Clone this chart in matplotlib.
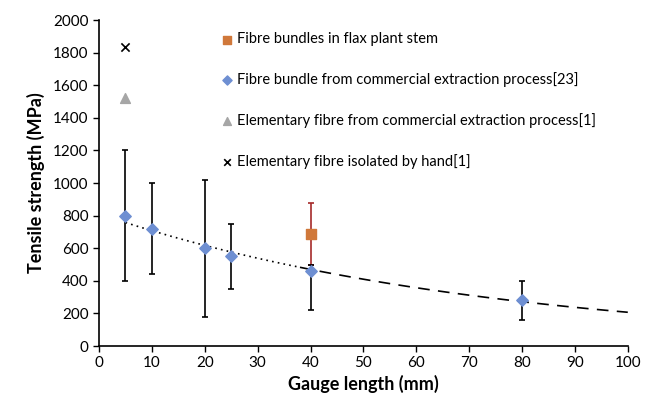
import numpy as np
import matplotlib
matplotlib.use("Agg")
import matplotlib.pyplot as plt

plt.rcParams['font.family'] = ['Lato', 'DejaVu Sans']

# fibre bundles from commercial extraction process [23]
gauge = [5, 10, 20, 25, 40, 80]
strength = [800, 720, 600, 550, 460, 280]
err_low = [400, 440, 180, 350, 220, 160]
err_high = [1200, 1000, 1020, 750, 500, 400]

# fibre bundles in flax plant stem
stem_x = [40]
stem_y = [690]
stem_low = [500]
stem_high = [880]

# elementary fibres
elem_comm_x, elem_comm_y = [5], [1520]
elem_hand_x, elem_hand_y = [5], [1835]

fig = plt.figure(figsize=(6.56, 4.01), dpi=100)
ax = fig.add_axes([0.151, 0.137, 0.806, 0.813])

# exponential trendline (fit on ln y, like excel) forecast to 100
b, lna = np.polyfit(gauge, np.log(strength), 1)
xs1 = np.linspace(5, 38, 100)
xs2 = np.linspace(38, 100, 100)
ax.plot(xs1, np.exp(lna + b * xs1), color='black', lw=1.2, ls=(0, (1, 2.5)), zorder=2)
ax.plot(xs2, np.exp(lna + b * xs2), color='black', lw=1.2, ls=(0, (7, 5)), zorder=2)

s = np.array(strength)
ax.errorbar(gauge, strength,
            yerr=[s - np.array(err_low), np.array(err_high) - s],
            fmt='none', ecolor='black', elinewidth=1.2, capsize=2.5, capthick=1.2, zorder=3)
sy = np.array(stem_y)
ax.errorbar(stem_x, stem_y,
            yerr=[sy - np.array(stem_low), np.array(stem_high) - sy],
            fmt='none', ecolor='#a52a2a', elinewidth=1.2, capsize=2.5, capthick=1.2, zorder=2.5)

ax.scatter(stem_x, stem_y, marker='s', s=55, color='#d0783a', zorder=4,
           label='Fibre bundles in flax plant stem')
ax.scatter(gauge, strength, marker='D', s=34, color='#6e8fd2', zorder=4,
           label='Fibre bundle from commercial extraction process[23]')
ax.scatter(elem_comm_x, elem_comm_y, marker='^', s=50, color='#a6a6a6', zorder=4,
           label='Elementary fibre from commercial extraction process[1]')
ax.scatter(elem_hand_x, elem_hand_y, marker='x', s=35, color='black', lw=1.2, zorder=4,
           label='Elementary fibre isolated by hand[1]')

ax.set_xlim(0, 100)
ax.set_ylim(0, 2000)
ax.set_xticks(range(0, 101, 10))
ax.set_yticks(range(0, 2001, 200))
ax.tick_params(direction='out', length=4, width=1, labelsize=11, colors='black')
for side in ['top', 'right']:
    ax.spines[side].set_visible(False)
for side in ['left', 'bottom']:
    ax.spines[side].set_linewidth(1.2)

ax.set_xlabel('Gauge length (mm)', fontsize=13, fontweight='bold', labelpad=3)
ax.set_ylabel('Tensile strength (MPa)', fontsize=13, fontweight='bold', labelpad=6)

ax.legend(loc='upper left', bbox_to_anchor=(0.22, 0.98), frameon=False, fontsize=10.5,
          labelspacing=1.78, handlelength=0.8, handletextpad=0.3, markerscale=0.8,
          borderaxespad=0)

fig.savefig('out.png', dpi=100)
